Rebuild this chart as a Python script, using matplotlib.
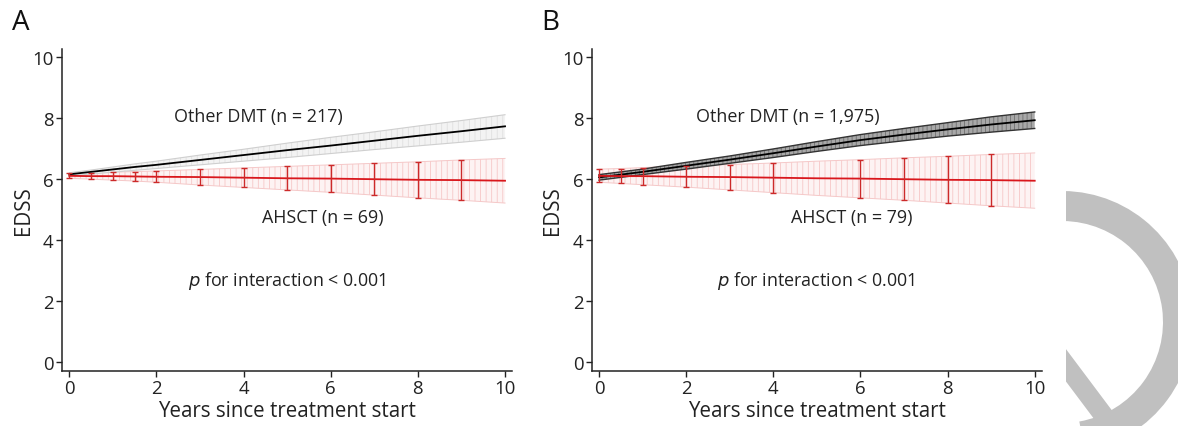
import numpy as np
import matplotlib.pyplot as plt
from matplotlib.patches import Arc
from matplotlib.lines import Line2D

plt.rcParams['font.family'] = ['Open Sans', 'DejaVu Sans']
plt.rcParams['hatch.linewidth'] = 0.6

years = [0, 0.5, 1, 1.5, 2, 3, 4, 5, 6, 7, 8, 9, 10]

# panel A
a_dmt_mean = [6.15, 6.23, 6.31, 6.39, 6.46, 6.62, 6.78, 6.94, 7.09, 7.25, 7.41, 7.56, 7.72]
a_dmt_low = [6.10, 6.16, 6.22, 6.28, 6.34, 6.46, 6.58, 6.70, 6.83, 6.96, 7.08, 7.20, 7.33]
a_dmt_high = [6.20, 6.29, 6.39, 6.49, 6.58, 6.78, 6.97, 7.17, 7.36, 7.54, 7.73, 7.91, 8.10]
a_hsct_mean = [6.10, 6.09, 6.09, 6.08, 6.07, 6.06, 6.04, 6.02, 6.01, 5.99, 5.97, 5.96, 5.94]
a_hsct_low = [6.02, 5.99, 5.96, 5.93, 5.89, 5.80, 5.72, 5.64, 5.56, 5.47, 5.38, 5.30, 5.21]
a_hsct_high = [6.18, 6.20, 6.22, 6.24, 6.26, 6.31, 6.36, 6.41, 6.46, 6.51, 6.56, 6.62, 6.67]
a_bar_years = [0, 0.5, 1, 1.5, 2, 3, 4, 5, 6, 7, 8, 9]

# panel B
b_dmt_mean = [6.05, 6.14, 6.23, 6.33, 6.43, 6.63, 6.84, 7.06, 7.27, 7.45, 7.62, 7.78, 7.92]
b_dmt_low = [5.96, 6.05, 6.14, 6.23, 6.32, 6.51, 6.70, 6.90, 7.09, 7.25, 7.40, 7.53, 7.65]
b_dmt_high = [6.14, 6.23, 6.32, 6.43, 6.54, 6.75, 6.98, 7.22, 7.45, 7.65, 7.84, 8.03, 8.19]
b_hsct_mean = [6.10, 6.09, 6.09, 6.08, 6.07, 6.06, 6.04, 6.02, 6.01, 5.99, 5.97, 5.96, 5.94]
b_hsct_low = [5.89, 5.85, 5.81, 5.77, 5.73, 5.64, 5.55, 5.46, 5.38, 5.30, 5.21, 5.12, 5.04]
b_hsct_high = [6.32, 6.34, 6.37, 6.40, 6.42, 6.47, 6.52, 6.58, 6.63, 6.69, 6.74, 6.80, 6.85]
b_bar_years = [0, 0.5, 1, 2, 3, 4, 6, 7, 8, 9]

panels = [
    dict(letter='A', dmt=(a_dmt_mean, a_dmt_low, a_dmt_high), hsct=(a_hsct_mean, a_hsct_low, a_hsct_high),
         bars=a_bar_years, dmt_label='Other DMT (n = 217)', hsct_label='AHSCT (n = 69)', dark=False),
    dict(letter='B', dmt=(b_dmt_mean, b_dmt_low, b_dmt_high), hsct=(b_hsct_mean, b_hsct_low, b_hsct_high),
         bars=b_bar_years, dmt_label='Other DMT (n = 1,975)', hsct_label='AHSCT (n = 79)', dark=True),
]

RED = '#d9171c'
W, H = 1178, 427
fig = plt.figure(figsize=(W / 100, H / 100), dpi=100)

lefts = [62, 591.7]
for p, left in zip(panels, lefts):
    ax = fig.add_axes([left / W, 1 - 372 / H, 450 / W, 322 / H])
    m, lo, hi = p['dmt']
    if p['dark']:
        ax.fill_between(years, lo, hi, facecolor='#a8a8a8', edgecolor='#707070', hatch='||||', linewidth=0, zorder=2)
        ax.plot(years, lo, color='#333333', lw=1.0, zorder=3)
        ax.plot(years, hi, color='#333333', lw=1.0, zorder=3)
    else:
        ax.fill_between(years, lo, hi, facecolor='#f3f3f3', edgecolor='#e0e0e0', hatch='|||', linewidth=0, zorder=2)
        ax.plot(years, lo, color='#cfcfcf', lw=0.8, zorder=3)
        ax.plot(years, hi, color='#cfcfcf', lw=0.8, zorder=3)
    ax.plot(years, m, color='black', lw=1.3, zorder=4)

    hm, hlo, hhi = p['hsct']
    ax.fill_between(years, hlo, hhi, facecolor='#fdf3f3', edgecolor='#f6c6c6', hatch='|||', linewidth=0, zorder=1)
    ax.plot(years, hlo, color='#f5c8c8', lw=0.7, zorder=1)
    ax.plot(years, hhi, color='#f5c8c8', lw=0.7, zorder=1)
    ax.plot(years, hm, color=RED, lw=1.3, zorder=5)
    idx = [years.index(b) for b in p['bars']]
    bm = np.array([hm[i] for i in idx])
    bl = np.array([hlo[i] for i in idx])
    bh = np.array([hhi[i] for i in idx])
    ax.errorbar(p['bars'], bm, yerr=[bm - bl, bh - bm], fmt='none', ecolor='#cc2a2a', elinewidth=1.0,
                capsize=2.5, capthick=1.0, zorder=5)

    ax.text(4.33, 8.07, p['dmt_label'], fontsize=12.9, ha='center', va='center', color='#222222')
    ax.text(5.81, 4.75, p['hsct_label'], fontsize=12.9, ha='center', va='center', color='#222222')
    ax.text(4.99, 2.69, r'$p$ for interaction < 0.001', fontsize=12.9, ha='center', va='center', color='#222222')

    ax.set_xlim(-0.168, 10.16)
    ax.set_ylim(-0.285, 10.25)
    ax.set_xticks([0, 2, 4, 6, 8, 10])
    ax.set_yticks([0, 2, 4, 6, 8, 10])
    for s in ['top', 'right']:
        ax.spines[s].set_visible(False)
    for s in ['left', 'bottom']:
        ax.spines[s].set_linewidth(1.1)
        ax.spines[s].set_color('#222222')
    ax.tick_params(length=4, width=1, color='#222222', labelsize=13.4, labelcolor='#222222', pad=2)
    ax.set_xlabel('Years since treatment start', fontsize=14.8, color='#222222', labelpad=2)
    ax.set_ylabel('EDSS', fontsize=14.8, color='#222222', labelpad=-1)
    fig.text((left - 50) / W, 1 - 23 / H, p['letter'], fontsize=20, ha='left', va='center', color='#111111')

# decorative gray arc at the right edge, clipped at its left edge
x0 = 1066
deco = fig.add_axes([x0 / W, 0, (W - x0) / W, 1], zorder=10)
deco.set_xlim(x0, W)
deco.set_ylim(H, 0)
deco.axis('off')
deco.add_patch(Arc((1062, 323), 232, 232, theta1=-95, theta2=80, color='#c0c0c0', lw=21.6))
deco.add_line(Line2D([1050, 1125], [345, 445], color='#c0c0c0', lw=14, solid_capstyle='butt'))

fig.savefig('out.png', dpi=100)
